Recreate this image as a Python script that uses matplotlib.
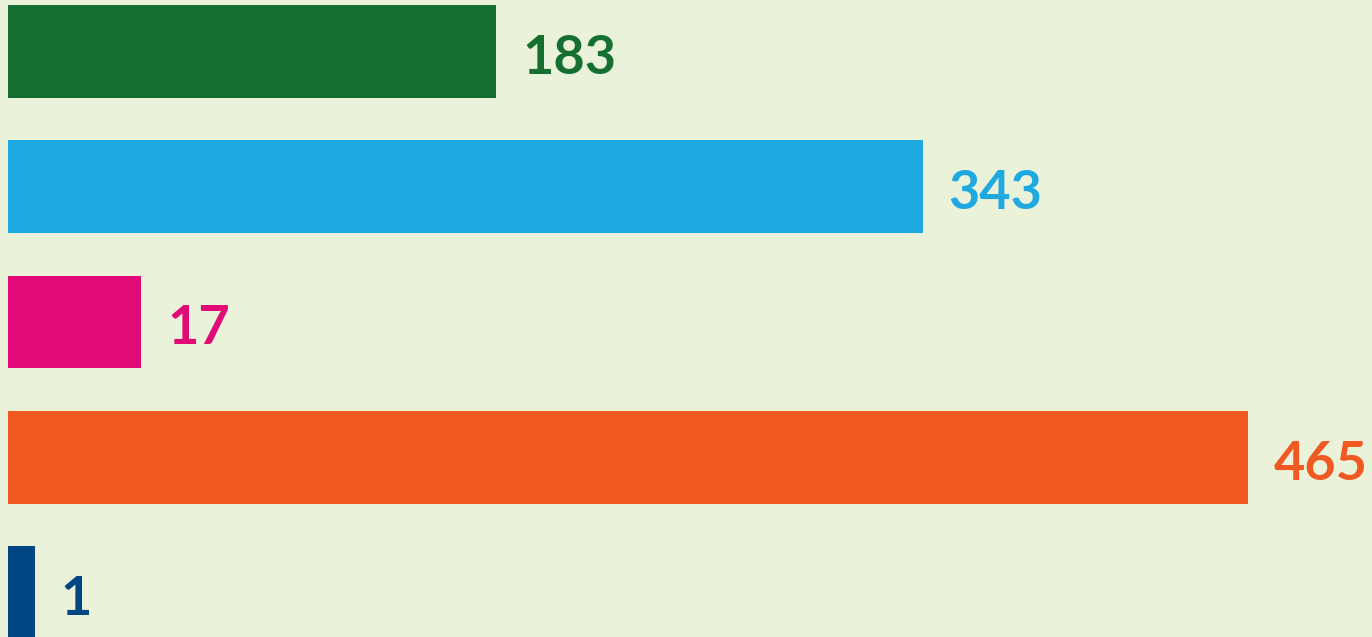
#!/usr/bin/env python3
"""Horizontal bar chart with value labels."""

import matplotlib
matplotlib.use("Agg")
import matplotlib.pyplot as plt

# values printed next to each bar
values = [183, 343, 17, 465, 1]
# bar lengths as drawn in the picture (small bars are shown wider than scale)
bar_lengths = [183, 343, 50, 465, 10]
colors = ["#156f30", "#1fa9e0", "#e20a76", "#f05a22", "#004682"]
background = "#eaf2da"

W, H, DPI = 1372, 637, 100
fig = plt.figure(figsize=(W / DPI, H / DPI), dpi=DPI, facecolor=background)
ax = fig.add_axes([0, 0, 1, 1])
ax.set_facecolor(background)

ypos = list(range(len(values)))
ax.barh(ypos, bar_lengths, height=0.686, color=colors, left=0)

px = 0.375  # data units per pixel
for y, length, val, col in zip(ypos, bar_lengths, values, colors):
    ax.text(length + 26 * px, y + 0.05, str(val), color=col, fontsize=39,
            fontweight="bold", family=["Lato", "DejaVu Sans"],
            va="center", ha="left")

ax.set_xlim(-8 * px, (W - 8) * px)
ax.set_ylim(4 + 44.5 / 135.5, -51.5 / 135.5)
ax.axis("off")

fig.savefig("out.png", dpi=DPI, facecolor=background)
